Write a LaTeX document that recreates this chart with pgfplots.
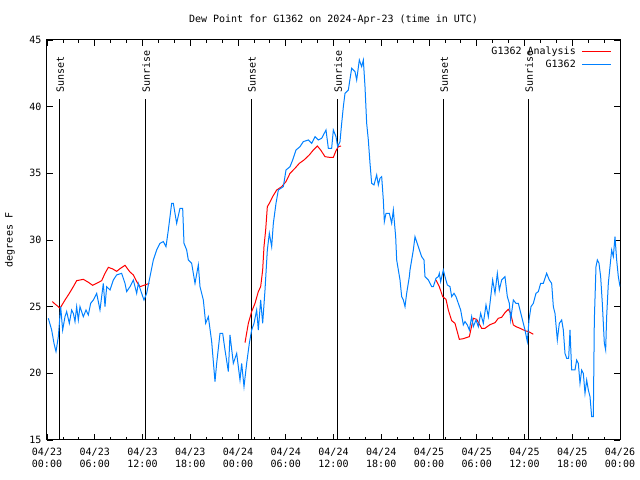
\documentclass[border=0pt]{standalone}
\usepackage{pgfplots}
\usepackage{pgfplotstable}
\pgfplotsset{compat=1.18}
\usepackage{fontspec}
\setmainfont{DejaVu Sans Mono}
\definecolor{gpred}{RGB}{255,0,0}
\definecolor{gpblue}{RGB}{0,128,255}

\pgfplotstableread{
h v
0.167 24.13
0.586 23.25
0.880 22.25
1.131 21.63
1.424 22.75
1.717 25.0
1.968 23.25
2.262 24.25
2.471 24.63
2.806 23.75
3.100 24.75
3.309 24.5
3.519 23.88
3.728 25.0
3.937 24.0
4.147 25.0
4.565 24.25
4.900 24.75
5.194 24.38
5.487 25.25
5.822 25.5
6.240 26.0
6.659 24.75
7.078 26.75
7.288 25.0
7.497 26.5
7.916 26.25
8.335 27.0
8.754 27.38
9.382 27.5
9.801 26.75
10.010 26.13
10.429 26.5
10.848 27.0
11.267 26.0
11.476 26.75
11.895 26.0
12.188 25.5
12.523 26.0
12.942 27.25
13.361 28.5
13.780 29.25
14.199 29.75
14.618 29.88
14.953 29.5
15.246 30.75
15.665 32.75
15.874 32.75
16.293 31.25
16.712 32.38
17.048 32.38
17.215 29.75
17.550 29.25
17.759 28.5
18.178 28.25
18.597 26.75
19.016 28.13
19.225 26.5
19.644 25.5
19.938 23.75
20.273 24.25
20.692 22.38
21.110 19.38
21.320 20.75
21.739 23.0
22.074 23.0
22.367 21.75
22.786 20.13
22.995 22.88
23.414 20.75
23.833 21.5
24.251 19.5
24.461 20.75
24.754 19.0
25.089 20.75
25.424 22.25
25.717 23.25
26.011 23.75
26.346 24.75
26.555 23.25
26.848 25.5
27.100 23.75
27.393 26.25
27.686 29.25
27.937 30.5
28.231 29.5
28.440 31.25
28.775 32.75
29.068 33.75
29.697 34.0
30.032 35.25
30.534 35.5
30.869 36.0
31.288 36.75
31.791 37.0
32.210 37.38
32.838 37.5
33.257 37.25
33.676 37.75
34.095 37.5
34.513 37.63
35.058 38.25
35.351 36.88
35.770 36.88
35.979 38.25
36.314 37.75
36.524 37.0
36.817 37.38
37.027 38.75
37.236 40.0
37.445 41.0
37.864 41.25
38.283 42.88
38.702 42.63
38.911 42.0
39.246 43.5
39.540 43.0
39.749 43.5
39.958 41.5
40.168 38.75
40.377 37.5
40.587 35.75
40.796 34.25
41.089 34.13
41.424 34.88
41.634 34.13
41.843 34.63
42.053 34.75
42.262 33.0
42.388 31.38
42.597 32.0
43.016 32.0
43.310 31.25
43.519 32.25
43.812 30.25
43.938 28.5
44.357 27.0
44.566 25.75
44.775 25.5
44.985 25.0
45.194 26.0
45.529 27.25
45.612 27.75
46.031 29.25
46.240 30.25
46.659 29.5
47.078 28.75
47.371 28.5
47.497 27.25
47.916 27.0
48.335 26.5
48.544 26.5
48.879 27.13
49.172 27.25
49.298 27.5
49.465 26.88
49.801 27.75
50.010 27.25
50.303 26.63
50.638 26.5
50.848 25.75
51.141 26.0
51.392 25.75
51.685 25.25
51.979 24.75
52.314 23.63
52.523 23.88
52.816 23.63
53.068 23.25
53.361 24.25
53.570 23.5
53.905 24.0
54.199 23.5
54.492 24.5
54.827 23.75
55.162 25.13
55.455 24.25
55.664 25.25
55.999 27.0
56.293 26.0
56.586 27.5
56.837 26.25
57.130 27.0
57.549 27.25
57.843 25.75
58.094 25.25
58.261 24.0
58.596 25.5
58.931 25.25
59.225 25.25
59.434 24.75
59.643 24.25
60.062 23.25
60.355 22.38
60.565 24.0
60.816 25.0
61.109 25.25
61.444 26.0
61.737 26.13
62.031 26.75
62.366 26.75
62.785 27.5
63.120 27.0
63.413 26.75
63.623 25.0
63.832 24.5
64.125 22.5
64.376 23.75
64.670 24.0
64.879 23.25
65.088 21.5
65.298 21.13
65.549 21.13
65.717 23.25
65.926 20.25
66.345 20.25
66.555 21.0
66.764 20.75
66.973 19.25
67.183 20.25
67.392 20.0
67.601 18.5
67.811 19.5
68.020 18.75
68.230 18.25
68.439 16.75
68.649 16.75
68.774 24.0
68.984 28.0
69.151 28.5
69.361 28.25
69.570 27.25
69.779 25.25
70.031 22.25
70.198 21.75
70.324 24.25
70.533 26.75
70.743 28.0
70.952 29.25
71.161 28.75
71.371 30.25
71.580 28.5
71.790 27.25
71.999 26.5
}\obs

\pgfplotstableread{
h v
0.670 25.38
1.005 25.2
1.424 25.0
1.634 24.88
2.262 25.5
2.806 26.0
3.309 26.5
3.728 26.95
4.565 27.05
5.194 26.83
5.738 26.6
6.240 26.75
6.869 26.95
7.288 27.5
7.707 27.95
8.251 27.83
8.754 27.65
9.173 27.85
9.801 28.1
10.429 27.6
10.848 27.38
11.267 26.88
11.686 26.5
12.314 26.63
12.858 26.75
18.0 nan
24.880 22.3
25.299 23.75
25.717 24.63
26.136 25.25
26.555 26.13
26.848 26.5
27.100 27.75
27.267 29.5
27.477 30.75
27.686 32.5
27.937 32.75
28.356 33.25
28.859 33.75
29.487 34.0
30.032 34.38
30.534 35.0
31.163 35.38
31.707 35.75
32.293 36.0
32.964 36.38
33.466 36.75
33.969 37.05
34.388 36.75
34.932 36.25
35.476 36.2
35.979 36.2
36.314 36.7
36.608 37.0
36.943 37.05
42.0 nan
48.879 27.0
49.298 26.5
49.717 25.75
50.136 25.55
50.429 24.75
50.848 23.95
51.267 23.75
51.811 22.55
52.314 22.6
53.068 22.75
53.570 24.13
53.989 24.05
54.617 23.38
55.036 23.38
55.664 23.65
56.293 23.8
56.711 24.13
57.130 24.2
57.549 24.55
57.968 24.8
58.261 24.5
58.596 23.63
58.931 23.5
59.434 23.38
60.062 23.2
60.607 23.1
61.109 22.93
}\ana

\begin{document}
\begin{tikzpicture}[font=\fontsize{10bp}{12bp}\selectfont]
\useasboundingbox (-47bp,-40bp) rectangle (593bp,440bp);
\begin{axis}[
  at={(0,0)}, anchor=south west,
  scale only axis, width=573bp, height=400bp,
  xmin=0, xmax=72, ymin=15, ymax=45,
  xtick={0,6,...,72},
  minor xtick={0,2,...,72},
  xticklabels={{04/23\\00:00},{04/23\\06:00},{04/23\\12:00},{04/23\\18:00},{04/24\\00:00},{04/24\\06:00},{04/24\\12:00},{04/24\\18:00},{04/25\\00:00},{04/25\\06:00},{04/25\\12:00},{04/25\\18:00},{04/26\\00:00}},
  xticklabel style={align=center, font=\fontsize{10bp}{12bp}\selectfont, yshift=-5bp},
  ytick={15,20,...,45},
  yticklabel style={font=\fontsize{10bp}{12bp}\selectfont, xshift=-2bp},
  /pgf/number format/assume math mode=true,
  tick align=inside,
  major tick length=6bp, minor tick length=3bp,
  every tick/.style={black, line width=0.8bp},
  axis line style={black, line width=1bp},
  title={Dew Point for G1362 on 2024-Apr-23 (time in UTC)},
  title style={anchor=base, yshift=12bp},
  ylabel={degrees F},
  ylabel style={at={(axis description cs:-0.0646,0.5)}, anchor=center},
  legend plot pos=right,
  legend cell align=right,
  legend style={at={(axis description cs:0.986,0.988)}, anchor=north east, draw=none, fill=none, inner sep=0pt, row sep=0bp, column sep=4bp, font=\fontsize{10bp}{12bp}\selectfont},
  legend image code/.code={\draw[#1] (0bp,0bp) -- (29bp,0bp);},
  clip mode=individual,
  unbounded coords=jump,
]
\addplot[black, line width=1bp, forget plot] coordinates {(1.55,15) (1.55,40.55)};
\addplot[black, line width=1bp, forget plot] coordinates {(12.35,15) (12.35,40.55)};
\addplot[black, line width=1bp, forget plot] coordinates {(25.67,15) (25.67,40.55)};
\addplot[black, line width=1bp, forget plot] coordinates {(36.48,15) (36.48,40.55)};
\addplot[black, line width=1bp, forget plot] coordinates {(49.80,15) (49.80,40.55)};
\addplot[black, line width=1bp, forget plot] coordinates {(60.48,15) (60.48,40.55)};
\node[rotate=90, anchor=west, inner sep=1bp] at (axis cs:1.65,41.0) {Sunset};
\node[rotate=90, anchor=west, inner sep=1bp] at (axis cs:12.45,41.0) {Sunrise};
\node[rotate=90, anchor=west, inner sep=1bp] at (axis cs:25.77,41.0) {Sunset};
\node[rotate=90, anchor=west, inner sep=1bp] at (axis cs:36.58,41.0) {Sunrise};
\node[rotate=90, anchor=west, inner sep=1bp] at (axis cs:49.90,41.0) {Sunset};
\node[rotate=90, anchor=west, inner sep=1bp] at (axis cs:60.58,41.0) {Sunrise};
\addplot[gpred, line width=1bp] table[x=h, y=v] {\ana};
\addlegendentry{G1362 Analysis}
\addplot[gpblue, line width=1bp] table[x=h, y=v] {\obs};
\addlegendentry{G1362}
\end{axis}
\end{tikzpicture}
\end{document}
